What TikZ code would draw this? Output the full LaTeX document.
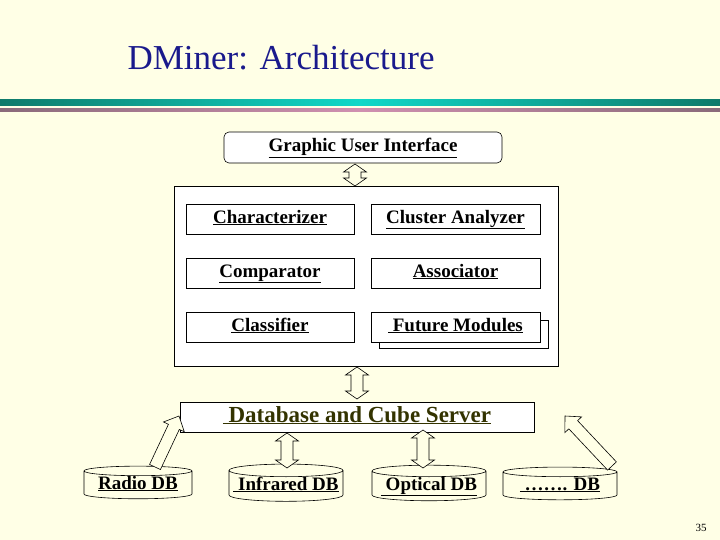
\documentclass[tikz,border=0pt]{standalone}
\usepackage{fontspec}
\setmainfont{Liberation Serif}
\usetikzlibrary{calc,shapes.geometric}
\definecolor{bg}{HTML}{FFFFE6}
\definecolor{ttl}{HTML}{1A1A8C}
\definecolor{tealA}{HTML}{0E7A6A}
\definecolor{tealB}{HTML}{10D8C8}
\definecolor{mauA}{HTML}{8A6A7A}
\definecolor{mauB}{HTML}{D090B0}
\definecolor{dbt}{HTML}{333300}
\newcommand{\sarrowdraw}[2]{%
 \coordinate (hh) at ($(#2)!12pt!(#1)$);
 \draw[line width=0.6pt,fill=bg,line join=miter] ($(#1)!6pt!90:(#2)$) -- ($(hh)!6pt!-90:(#1)$) -- ($(hh)!11.5pt!-90:(#1)$) -- (#2) -- ($(hh)!11.5pt!90:(#1)$) -- ($(hh)!6pt!90:(#1)$) -- ($(#1)!6pt!-90:(#2)$) -- cycle;}
\newcommand{\darrowdraw}[2]{%
 \coordinate (hh) at ($(#2)!8pt!(#1)$);
 \coordinate (tt) at ($(#1)!8pt!(#2)$);
 \draw[line width=0.6pt,fill=bg,line join=miter] (#1) -- ($(tt)!11.5pt!-90:(#2)$) -- ($(tt)!6pt!-90:(#2)$) -- ($(hh)!6pt!90:(#1)$) -- ($(hh)!11.5pt!90:(#1)$) -- (#2) -- ($(hh)!11.5pt!-90:(#1)$) -- ($(hh)!6pt!-90:(#1)$) -- ($(tt)!6pt!90:(#2)$) -- ($(tt)!11.5pt!90:(#2)$) -- cycle;}
\tikzset{
 x=1pt,y=-1pt,
 lbl/.style={font=\fontsize{19}{21}\selectfont\bfseries,text height=13pt,text depth=5pt},
 box/.style={draw,fill=white,line width=0.6pt,inner sep=0pt},
 cyl/.style={draw,fill=bg,cylinder,shape border rotate=90,aspect=0.12,minimum height=31pt,inner sep=0pt,line width=0.6pt,font=\fontsize{19}{21}\selectfont\bfseries,text height=13pt,text depth=5pt}
}
\begin{document}
\begin{tikzpicture}
\path[fill=bg] (0,0) rectangle (720,540);
\useasboundingbox (0,0) rectangle (720,540);
\node[font=\fontsize{35}{38}\selectfont,text=ttl,anchor=west] (title) at (124,58) {DMiner: Architecture};
\shade[left color=tealA,right color=tealA,middle color=tealB] (0,100) rectangle (720,106);
\shade[left color=mauA,right color=mauA,middle color=mauB] (0,109) rectangle (720,112);
\node[box,rounded corners=5pt,minimum width=278pt,minimum height=31pt,lbl] (gui) at (363,147.5) {\underline{Graphic User Interface}};
\node[box,minimum width=384pt,minimum height=180pt] (core) at (366,276) {};
\node[box,minimum width=168pt,minimum height=30pt,lbl] (char) at (270,219) {\underline{Characterizer}};
\node[box,minimum width=169pt,minimum height=30pt,lbl] (clus) at (455.5,219) {\underline{Cluster Analyzer}};
\node[box,minimum width=168pt,minimum height=30pt,lbl] (comp) at (270,273) {\underline{Comparator}};
\node[box,minimum width=169pt,minimum height=30pt,lbl] (asso) at (455.5,273) {\underline{Associator}};
\node[box,minimum width=168pt,minimum height=30pt,lbl] (clas) at (270,327) {\underline{Classifier}};
\draw[line width=0.6pt,fill=white] (379,320) rectangle (548,348);
\node[box,minimum width=169pt,minimum height=30pt,lbl] (fut) at (455.5,327) {\underline{ Future Modules}};
\node[box,minimum width=354pt,minimum height=30pt,font=\fontsize{23}{25}\selectfont\bfseries,text=dbt,text height=16pt,text depth=6pt] (dbs) at (357,417) {\underline{ Database and Cube Server}};
\node[cyl,minimum width=108pt] (radio) at (138,485) {\underline{Radio DB}};
\node[cyl,minimum width=114pt] (infra) at (286,486) {\underline{ Infrared DB}};
\node[cyl,minimum width=114pt] (opt) at (429,486) {\underline{ Optical DB}};
\node[cyl,minimum width=114pt] (other) at (560,486) {\underline{ ……. DB}};
\coordinate (a1t) at (355,164); \coordinate (a1b) at (355,186);
\coordinate (a2t) at (357,367); \coordinate (a2b) at (357,399);
\coordinate (a3t) at (287,433); \coordinate (a3b) at (287,468);
\coordinate (a4t) at (423,430); \coordinate (a4b) at (423,468);
\coordinate (a5s) at (155,467); \coordinate (a5e) at (179,416);
\coordinate (a6s) at (612,466); \coordinate (a6e) at (565,416);
\darrowdraw{a1t}{a1b}
\darrowdraw{a2t}{a2b}
\darrowdraw{a3t}{a3b}
\darrowdraw{a4t}{a4b}
\sarrowdraw{a5s}{a5e}
\sarrowdraw{a6s}{a6e}
\node[font=\fontsize{11}{12}\selectfont] (pg) at (701,528) {35};
\end{tikzpicture}
\end{document}
